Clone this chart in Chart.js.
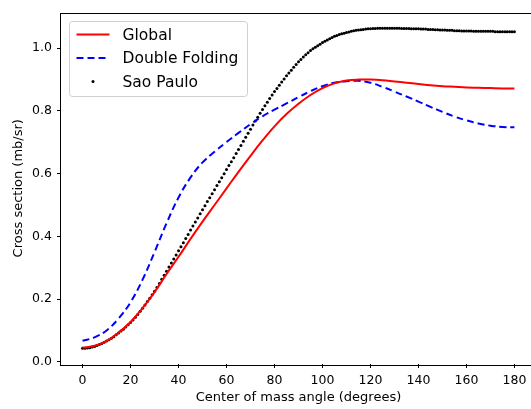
<!DOCTYPE html>
<html>
<head>
<meta charset="utf-8">
<script src="https://cdn.jsdelivr.net/npm/chart.js@4/dist/chart.umd.min.js"></script>
<style>
    html, body { margin: 0; padding: 0; background: #fff; overflow: hidden; }
</style>
</head>
<body>
<canvas id="grafico_secao" width="540" height="409"></canvas>
<script>
// -----------------------Dados--------------------------------------------//

// angulos de 5 em 5 graus para as curvas continuas
var angulosCurvas = [0, 5, 10, 15, 20, 25, 30, 35, 40, 45, 50, 55, 60, 65, 70, 75, 80, 85, 90,
    95, 100, 105, 110, 115, 120, 125, 130, 135, 140, 145, 150, 155, 160, 165, 170, 175, 180];

var secaoGlobal = [0.045, 0.051, 0.066, 0.093, 0.127, 0.171, 0.222, 0.280, 0.335, 0.392, 0.447, 0.500,
    0.553, 0.606, 0.657, 0.706, 0.751, 0.790, 0.823, 0.851, 0.873, 0.888, 0.897, 0.900, 0.900, 0.898,
    0.894, 0.890, 0.886, 0.882, 0.879, 0.877, 0.875, 0.874, 0.873, 0.872, 0.872];

var secaoDoubleFolding = [0.067, 0.078, 0.100, 0.138, 0.190, 0.262, 0.350, 0.442, 0.524, 0.588, 0.636,
    0.670, 0.701, 0.730, 0.758, 0.783, 0.804, 0.824, 0.844, 0.863, 0.879, 0.890, 0.895, 0.896, 0.890,
    0.877, 0.862, 0.846, 0.830, 0.813, 0.797, 0.782, 0.770, 0.760, 0.753, 0.749, 0.748];

// Sao Paulo: um ponto por grau, de 0 a 180
var angulosSaoPaulo = Array.from({ length: 181 }, function (_, i) { return i; });

var secaoSaoPaulo = [
    0.043, 0.043, 0.044, 0.045, 0.047, 0.049, 0.052, 0.055, 0.058, 0.062,
    0.066, 0.070, 0.075, 0.080, 0.086, 0.092, 0.098, 0.104, 0.111, 0.118,
    0.125, 0.133, 0.142, 0.151, 0.161, 0.171, 0.181, 0.192, 0.203, 0.214,
    0.225, 0.237, 0.250, 0.263, 0.276, 0.289, 0.302, 0.315, 0.328, 0.341,
    0.354, 0.367, 0.380, 0.393, 0.406, 0.420, 0.433, 0.446, 0.459, 0.472,
    0.485, 0.498, 0.511, 0.523, 0.536, 0.549, 0.562, 0.574, 0.587, 0.600,
    0.613, 0.626, 0.638, 0.651, 0.664, 0.677, 0.690, 0.703, 0.716, 0.729,
    0.742, 0.755, 0.768, 0.780, 0.793, 0.805, 0.817, 0.828, 0.840, 0.851,
    0.862, 0.872, 0.882, 0.892, 0.902, 0.912, 0.921, 0.930, 0.939, 0.948,
    0.957, 0.964, 0.972, 0.979, 0.986, 0.993, 0.998, 1.003, 1.008, 1.013,
    1.018, 1.022, 1.026, 1.030, 1.034, 1.038, 1.041, 1.044, 1.046, 1.048,
    1.050, 1.052, 1.054, 1.056, 1.057, 1.058, 1.059, 1.060, 1.061, 1.062,
    1.062, 1.063, 1.063, 1.064, 1.064, 1.064, 1.064, 1.064, 1.064, 1.064,
    1.064, 1.064, 1.064, 1.063, 1.063, 1.063, 1.063, 1.062, 1.062, 1.062,
    1.062, 1.061, 1.061, 1.061, 1.060, 1.060, 1.060, 1.059, 1.059, 1.058,
    1.058, 1.058, 1.057, 1.057, 1.057, 1.056, 1.056, 1.056, 1.055, 1.055,
    1.055, 1.055, 1.055, 1.054, 1.054, 1.054, 1.054, 1.054, 1.054, 1.054,
    1.054, 1.054, 1.053, 1.053, 1.053, 1.053, 1.053, 1.053, 1.053, 1.053,
    1.053
];

var ticksX = [0, 20, 40, 60, 80, 100, 120, 140, 160, 180];
var ticksY = [0.0, 0.2, 0.4, 0.6, 0.8, 1.0];

function pares(xs, ys) {
    return ys.map(function (y, i) { return { x: xs[i], y: y }; });
}

// -----------------------Plugins--------------------------------------------//

// caixa em volta da area do grafico (4 lados)
var moldura = {
    id: 'moldura',
    afterDraw: function (chart) {
        var a = chart.chartArea, c = chart.ctx;
        c.save();
        c.strokeStyle = '#000';
        c.lineWidth = 1;
        c.strokeRect(Math.round(a.left) - 0.5, Math.round(a.top) + 0.5,
            Math.round(a.right - a.left) + 1, Math.round(a.bottom - a.top));
        c.restore();
    }
};

// legenda dentro do grafico, canto superior esquerdo
var legenda = {
    id: 'legenda',
    afterDatasetsDraw: function (chart) {
        var a = chart.chartArea, c = chart.ctx;
        var x0 = Math.round(a.left) + 8.5, y0 = Math.round(a.top) + 8.5;
        c.save();
        c.beginPath();
        c.roundRect(x0, y0, 178, 75, 3);
        c.fillStyle = 'rgba(255,255,255,0.8)';
        c.fill();
        c.strokeStyle = '#d0d0d0';
        c.lineWidth = 1;
        c.stroke();

        c.font = '15.5px "DejaVu Sans"';
        c.textBaseline = 'middle';
        c.fillStyle = '#000';
        chart.data.datasets.forEach(function (ds, i) {
            var yy = y0 + 13 + i * 23.5;
            var xa = x0 + 7, xb = x0 + 40;
            if (ds.showLine === false) {
                c.beginPath();
                c.arc((xa + xb) / 2, yy, 1.5, 0, Math.PI * 2);
                c.fillStyle = ds.pointBackgroundColor;
                c.fill();
            } else {
                c.beginPath();
                c.setLineDash(ds.borderDash || []);
                c.strokeStyle = ds.borderColor;
                c.lineWidth = ds.borderWidth;
                c.moveTo(xa, yy);
                c.lineTo(xb, yy);
                c.stroke();
                c.setLineDash([]);
            }
            c.fillStyle = '#000';
            c.fillText(ds.label, x0 + 53, yy + 1);
        });
        c.restore();
    }
};

// -----------------------Grafico Secao de choque--------------------------------------------//

var fonteTicks = { family: '"DejaVu Sans"', size: 12.5 };
var fonteTitulo = { family: '"DejaVu Sans"', size: 13 };

var dados = {
    datasets: [{
        label: 'Global',
        data: pares(angulosCurvas, secaoGlobal),
        borderColor: '#ff0000',
        borderWidth: 2,
        pointRadius: 0,
        tension: 0.4
    }, {
        label: 'Double Folding',
        data: pares(angulosCurvas, secaoDoubleFolding),
        borderColor: '#0000ff',
        borderWidth: 2,
        borderDash: [7, 4],
        pointRadius: 0,
        tension: 0.4
    }, {
        label: 'Sao Paulo',
        data: pares(angulosSaoPaulo, secaoSaoPaulo),
        showLine: false,
        pointRadius: 1.5,
        pointBorderWidth: 0,
        pointBackgroundColor: '#000000',
        borderColor: '#000000'
    }]
};

var opcoes = {
    responsive: false,
    animation: false,
    layout: { padding: { top: 10, right: 2.6, left: 0, bottom: 0 } },
    plugins: {
        legend: { display: false },
        tooltip: { enabled: false }
    },
    scales: {
        x: {
            type: 'linear',
            min: -9,
            max: 189,
            afterFit: function (s) { s.height = 45; },
            afterBuildTicks: function (s) { s.ticks = ticksX.map(function (v) { return { value: v }; }); },
            grid: { drawOnChartArea: false, drawTicks: true, tickLength: 4, color: '#000' },
            border: { display: false },
            ticks: { color: '#000', font: fonteTicks, padding: 5, maxRotation: 0 },
            title: {
                display: true,
                text: 'Center of mass angle (degrees)',
                color: '#000',
                font: fonteTitulo,
                padding: { top: 0, bottom: 4 }
            }
        },
        y: {
            min: -0.007,
            max: 1.114,
            afterFit: function (s) { s.width = 61; },
            afterBuildTicks: function (s) { s.ticks = ticksY.map(function (v) { return { value: v }; }); },
            grid: { drawOnChartArea: false, drawTicks: true, tickLength: 4, color: '#000' },
            border: { display: false },
            ticks: {
                color: '#000',
                font: fonteTicks,
                padding: 5,
                callback: function (v) { return v.toFixed(1); }
            },
            title: {
                display: true,
                text: 'Cross section (mb/sr)',
                color: '#000',
                font: fonteTitulo,
                padding: { top: 11, bottom: 0 }
            }
        }
    }
};

var ctx = document.getElementById('grafico_secao').getContext('2d');
var grafico_secao = new Chart(ctx, {
    type: 'line',
    data: dados,
    options: opcoes,
    plugins: [legenda, moldura]
});
</script>
</body>
</html>
